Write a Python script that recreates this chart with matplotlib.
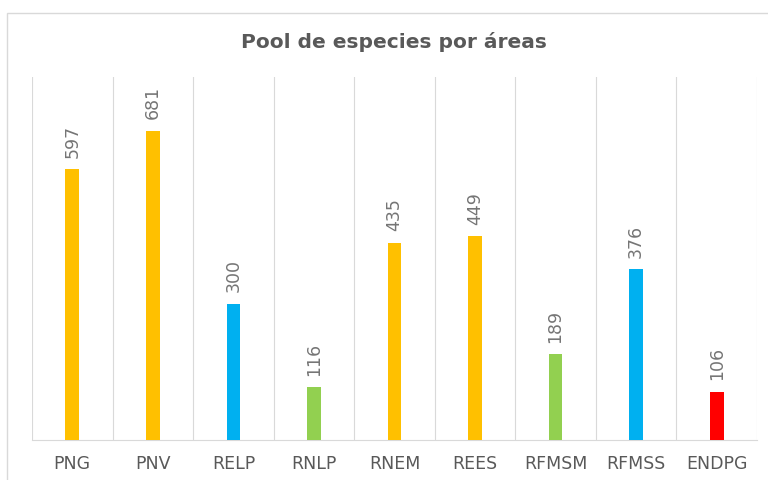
import matplotlib.pyplot as plt
from matplotlib.patches import Rectangle

plt.rcParams["font.family"] = "DejaVu Sans"

categories = ["PNG", "PNV", "RELP", "RNLP", "RNEM", "REES", "RFMSM", "RFMSS", "ENDPG"]
values = [597, 681, 300, 116, 435, 449, 189, 376, 106]
colors = ["#FFC000", "#FFC000", "#00B0F0", "#92D050", "#FFC000",
          "#FFC000", "#92D050", "#00B0F0", "#FF0000"]

fig = plt.figure(figsize=(7.68, 4.81), dpi=100)

# outer chart frame (cropped at right and bottom)
fig.patches.append(Rectangle((7 / 768, -0.1), 1.2, 1 - 14 / 481 + 0.1,
                             transform=fig.transFigure, fill=False,
                             edgecolor="#D9D9D9", linewidth=1.0))

ax = fig.add_axes([32 / 768, 1 - 441 / 481, 725 / 768, (441 - 78) / 481])
x = range(len(categories))
ax.bar(x, values, width=0.17, color=colors, zorder=3)

for i, v in enumerate(values):
    ax.annotate(str(v), (i, v), xytext=(0, 9), textcoords="offset points",
                rotation=90, ha="center", va="bottom", fontsize=12.5,
                color="#757575")

ax.set_xlim(-0.5, len(categories) - 0.5)
ax.set_ylim(0, 800)
for b in range(len(categories) + 1):
    ax.axvline(b - 0.5, color="#D9D9D9", linewidth=0.8, zorder=1)

ax.set_xticks(list(x))
ax.set_xticklabels(categories, fontsize=12.5, color="#595959")
ax.tick_params(axis="x", length=0, pad=10)
ax.set_yticks([])
for s in ["top", "left", "right"]:
    ax.spines[s].set_visible(False)
ax.spines["bottom"].set_color("#D9D9D9")

fig.text(394 / 768, 1 - 42 / 481, "Pool de especies por áreas", ha="center",
         va="center", fontsize=14.5, fontweight="bold", color="#595959")

fig.savefig("out.png", dpi=100)
